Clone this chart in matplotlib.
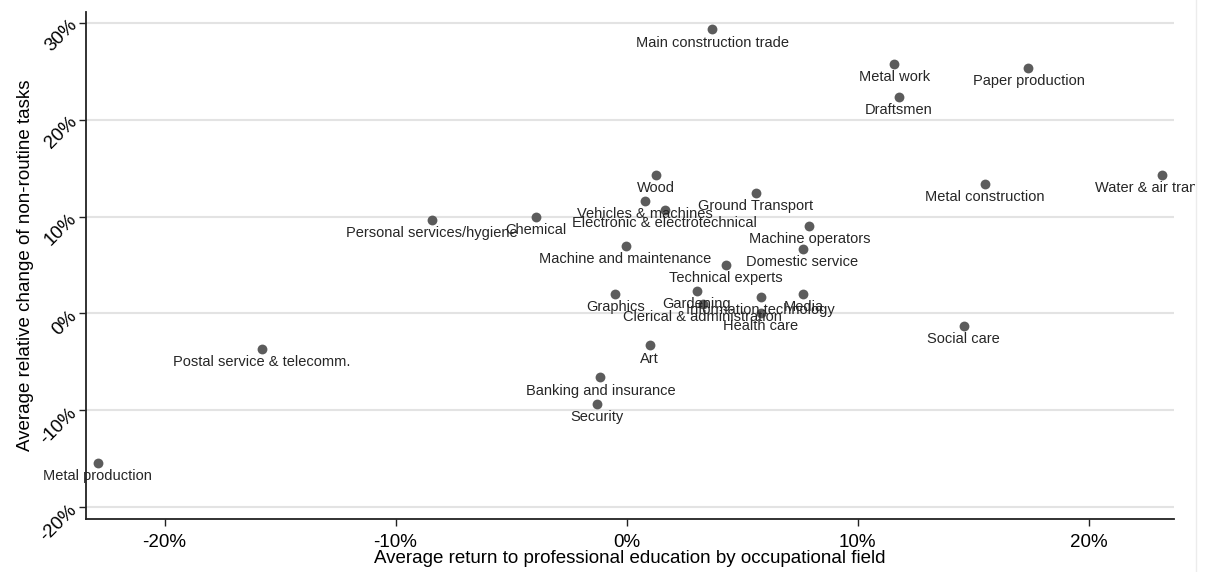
import matplotlib
matplotlib.use('Agg')
import matplotlib.pyplot as plt
from matplotlib.ticker import FuncFormatter
from matplotlib.transforms import Bbox, TransformedBbox

plt.rcParams['font.family'] = ['Liberation Sans', 'DejaVu Sans']

# occupational fields: return to education (%) vs change of non-routine tasks (%)
felder = ['Main construction trade', 'Metal work', 'Paper production', 'Draftsmen',
          'Water & air transport', 'Metal construction', 'Wood', 'Ground Transport',
          'Vehicles & machines', 'Electronic & electrotechnical', 'Personal services/hygiene',
          'Chemical', 'Machine operators', 'Machine and maintenance', 'Domestic service',
          'Technical experts', 'Graphics', 'Gardening', 'Information technology', 'Media',
          'Clerical & administration', 'Health care', 'Social care',
          'Postal service & telecomm.', 'Art', 'Banking and insurance', 'Security',
          'Metal production']
rendite = [3.7, 11.6, 17.4, 11.8, 23.2, 15.5, 1.26, 5.6, 0.78, 1.65, -8.44, -3.94,
           7.92, -0.04, 7.62, 4.29, -0.48, 3.03, 5.8, 7.66, 3.3, 5.8, 14.6,
           -15.8, 1.0, -1.13, -1.26, -22.9]
aenderung = [29.3, 25.7, 25.3, 22.3, 14.3, 13.4, 14.3, 12.4, 11.6, 10.7, 9.6, 10.0,
             9.0, 7.0, 6.7, 5.0, 2.0, 2.3, 1.7, 2.0, 1.0, 0.1, -1.3,
             -3.7, -3.3, -6.6, -9.3, -15.4]

x_ticks = [-20, -10, 0, 10, 20]
y_ticks = [-20, -10, 0, 10, 20, 30]

fig = plt.figure(figsize=(12.05, 5.72), dpi=100)
ax = fig.add_axes([86 / 1205, 1 - 519 / 572, (1174 - 86) / 1205, (519 - 12) / 572])

ax.scatter(rendite, aenderung, s=50, color='#5c5c5c', zorder=3, linewidths=0)

clip = TransformedBbox(Bbox([[0, 0], [1195 / 1205, 1]]), fig.transFigure)
for nome, x, y in zip(felder, rendite, aenderung):
    t = ax.annotate(nome, (x, y), xytext=(0, -9.4), textcoords='offset points',
                    ha='center', va='center', fontsize=10.5, color='#262626',
                    annotation_clip=False, zorder=4)
    t.set_clip_box(clip)
    t.set_clip_on(True)

ax.set_xlim(-23.4, 23.7)
ax.set_ylim(-21.2, 31.1)
ax.set_xticks(x_ticks)
ax.set_yticks(y_ticks)
pct = FuncFormatter(lambda v, p: '%d%%' % v)
ax.xaxis.set_major_formatter(pct)
ax.yaxis.set_major_formatter(pct)

ax.grid(axis='y', color='#e3e3e3', linewidth=1.5, zorder=0)
ax.set_axisbelow(True)
for s in ['top', 'right']:
    ax.spines[s].set_visible(False)
for s in ['left', 'bottom']:
    ax.spines[s].set_color('#222222')
    ax.spines[s].set_linewidth(1.3)

ax.tick_params(axis='both', direction='out', length=5, width=1, colors='#222222',
               labelsize=13.5, labelcolor='black')
ax.tick_params(axis='x', pad=6)
for lab in ax.get_yticklabels():
    lab.set_rotation(45)
    lab.set_ha('right')
    lab.set_va('center')
    lab.set_rotation_mode('anchor')

ax.set_xlabel('Average return to professional education by occupational field',
              fontsize=13.5, labelpad=-1)
ax.set_ylabel('Average relative change of non-routine tasks', fontsize=13.5, labelpad=2)

fig.add_artist(plt.Line2D([1196 / 1205, 1196 / 1205], [0, 1], color='#ececec',
                          linewidth=1, transform=fig.transFigure))

fig.savefig('out.png', dpi=100)
